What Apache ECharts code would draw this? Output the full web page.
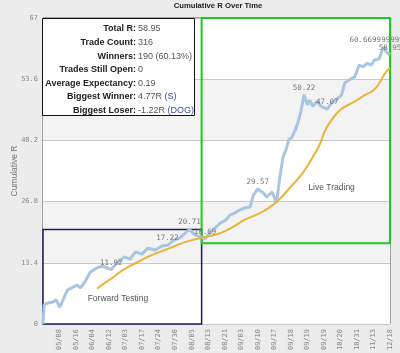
<!DOCTYPE html>
<html>
<head>
<meta charset="utf-8">
<script src="https://cdn.jsdelivr.net/npm/echarts@6/dist/echarts.min.js"></script>
<style>
html,body{margin:0;padding:0;background:#ececec;}
#chart{width:400px;height:353px;}
</style>
</head>
<body>
<div id="chart"></div>
<script>
// x tick labels, one every 15 trades
var dateLabels = ['05/08','05/16','06/04','06/12','07/03','07/17','07/24','07/30','08/05',
  '08/13','08/21','09/03','09/10','09/17','09/18','09/19','09/19','10/20','10/31','11/13','12/18'];
var yTicks = [0, 13.4, 26.8, 40.2, 53.6, 67];

// cumulative R by trade number
var tradeIdx = [0,1,4,9,12,15,17,22,26,31,34,38,43,49,54,62,68,74,79,84,90,95,102,108,113,119,124,130,133,136,140,147,
  154,161,166,170,174,179,183,188,191,195,200,203,208,212,215,218,221,223,226,229,231,234,237,240,242,245,249,252,258,
  262,267,271,274,279,283,287,291,294,298,301,305,309,312,315];
var cumR = [0,4.2,4.6,4.8,5.3,3.7,4.6,7.4,7.9,8.5,7.9,9.2,11.4,12.3,12.7,11.92,13.6,14.7,14.2,15.8,15.3,16.6,16.2,17.1,17.22,18.4,18.8,20.1,20.71,19.9,19.3,18.69,
  20.6,22.1,22.8,23.9,24.3,25.0,25.4,25.6,28.2,29.57,28.7,27.8,28.9,26.5,32.2,36.6,38.5,40.3,40.9,42.5,43.8,46.4,50.22,48.0,49.0,47.7,48.8,47.7,47.07,
  48.4,49.3,50.1,52.8,53.6,54.1,56.7,56.3,57.1,56.7,57.8,58.0,60.669999999999,59.5,58.95];
var labelAt = [62,113,133,147,195,237,258,309,315];

// moving average line
var maIdx = [49,56,63,70,79,88,97,106,115,124,133,143,152,161,172,183,197,206,215,224,233,240,245,251,256,262,270,279,285,292,300,306,310,315];
var maR = [7.7,9.0,10.1,11.4,12.7,13.8,14.9,15.8,16.6,17.5,18.2,18.8,19.3,19.9,21.2,22.8,24.3,25.6,27.4,29.8,32.2,34.6,36.6,39.2,42.3,44.7,46.9,48.2,49.0,50.1,51.2,53.0,54.7,56.1];

// testing periods [fromTrade, fromR, toTrade, toR]
var forwardBox = [0, 0, 144, 20.71];
var liveBox = [144, 17.7, 315, 67];

var statLabels = ['Total R:','Trade Count:','Winners:','Trades Still Open:','Average Expectancy:','Biggest Winner:','Biggest Loser:'];
var statValues = ['58.95','316','190 (60.13%)','0','0.19','4.77R {l|(S)}','-1.22R {l|(DOG)}'];

var mono = 'DejaVu Sans Mono';
var sans = 'Liberation Sans';

var blueData = tradeIdx.map(function (t, i) {
  var d = { value: [t, cumR[i]] };
  if (labelAt.indexOf(t) >= 0) d.label = { show: true };
  return d;
});
var maData = maIdx.map(function (t, i) { return [t, maR[i]]; });

var statGraphics = [{
  type: 'rect', z: 100,
  shape: { x: 42.5, y: 18.5, width: 152, height: 97 },
  style: { fill: '#fff', stroke: '#111', lineWidth: 1 }
}];
statLabels.forEach(function (s, i) {
  var y = 29 + i * 13.6;
  statGraphics.push({
    type: 'text', z: 101, x: 136, y: y,
    style: { text: s, textAlign: 'right', textVerticalAlign: 'middle',
      font: 'bold 9px ' + sans, fill: '#222' }
  });
  statGraphics.push({
    type: 'text', z: 101, x: 138, y: y,
    style: { text: statValues[i], textAlign: 'left', textVerticalAlign: 'middle',
      font: '9px ' + sans, fill: '#555',
      rich: { l: { fill: '#3d4f9f', font: '9px ' + sans } } }
  });
});

var chart = echarts.init(document.getElementById('chart'));
chart.setOption({
  backgroundColor: '#ececec',
  animation: false,
  title: {
    text: 'Cumulative R Over Time',
    left: 216, textAlign: 'center', top: 0, padding: 2,
    textStyle: { fontFamily: sans, fontSize: 7.7, fontWeight: 'bold', color: '#222' }
  },
  grid: {
    left: 43, right: 10, top: 18, bottom: 29,
    outerBoundsMode: 'none',
    show: true, backgroundColor: '#fff', borderColor: '#555', borderWidth: 1
  },
  xAxis: {
    type: 'value', min: 0, max: 315, interval: 15,
    axisLine: { show: false },
    axisTick: { show: false },
    splitLine: { show: false },
    axisLabel: {
      rotate: 90, margin: 5, fontFamily: mono, fontSize: 7, color: '#888',
      formatter: function (v) { return dateLabels[v / 15 - 1] || ''; }
    }
  },
  yAxis: {
    type: 'value', min: yTicks[0], max: yTicks[yTicks.length - 1], interval: yTicks[1],
    name: 'Cumulative R', nameLocation: 'middle', nameGap: 24, nameMoveOverlap: false,
    nameTextStyle: { fontFamily: sans, fontSize: 8.5, color: '#777' },
    axisLine: { show: false },
    axisTick: { show: false },
    axisLabel: {
      margin: 5, fontFamily: mono, fontSize: 7, color: '#888',
      formatter: function (v) { return String(+v.toFixed(1)); }
    },
    splitLine: { lineStyle: { color: '#c8c8c8', width: 1 } },
    splitArea: { show: true, areaStyle: { color: ['#ffffff', '#f3f3f3'] } }
  },
  series: [{
    type: 'line',
    data: blueData,
    showSymbol: true,
    showAllSymbol: true,
    symbol: 'circle',
    symbolSize: 0,
    lineStyle: { color: '#a9c5e2', width: 3 },
    label: {
      show: false, position: 'top', distance: 3,
      fontFamily: mono, fontSize: 7.5, color: '#777',
      formatter: function (p) { return String(p.value[1]); }
    },
    labelLayout: { hideOverlap: false },
    z: 3,
    markArea: {
      silent: true,
      data: [
        [{ xAxis: forwardBox[0], yAxis: forwardBox[1],
           itemStyle: { color: 'rgba(0,0,0,0)', borderColor: '#1c1c5c', borderWidth: 1.5 } },
         { xAxis: forwardBox[2], yAxis: forwardBox[3] }],
        [{ xAxis: liveBox[0], yAxis: liveBox[1],
           itemStyle: { color: 'rgba(0,0,0,0)', borderColor: '#1ccc1c', borderWidth: 2 } },
         { xAxis: liveBox[2], yAxis: liveBox[3] }]
      ]
    },
    markPoint: {
      silent: true,
      symbolSize: 0,
      label: { show: true, position: 'inside', formatter: '{b}',
        fontFamily: sans, fontSize: 8.5, color: '#555' },
      data: [
        { name: 'Forward Testing', coord: [68, 5.5] },
        { name: 'Live Trading', coord: [262, 29.8] }
      ]
    }
  }, {
    type: 'line',
    data: maData,
    showSymbol: false,
    symbol: 'none',
    smooth: true,
    lineStyle: { color: '#e8b43a', width: 2 },
    z: 4
  }],
  graphic: statGraphics
});
</script>
</body>
</html>
